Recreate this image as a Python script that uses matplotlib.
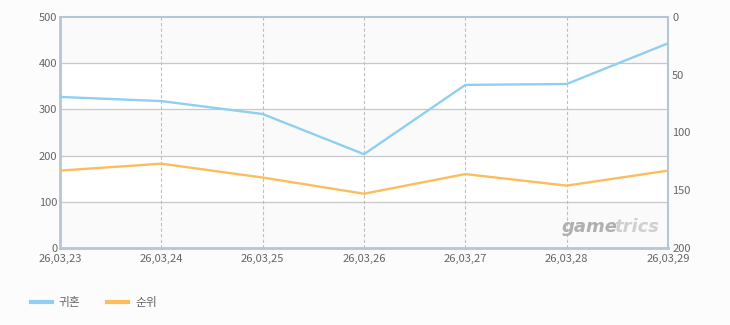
import matplotlib
matplotlib.use("Agg")
import matplotlib.pyplot as plt
from matplotlib.lines import Line2D

plt.rcParams['font.family'] = ['Noto Sans CJK KR', 'DejaVu Sans']

dates = ["26,03,23", "26,03,24", "26,03,25", "26,03,26", "26,03,27", "26,03,28", "26,03,29"]
users = [327, 318, 290, 203, 353, 355, 443]
rank = [133, 127, 139, 153, 136, 146, 133]
left_ticks = [0, 100, 200, 300, 400, 500]
right_ticks = [0, 50, 100, 150, 200]
series_names = ["귀혼", "순위"]

blue = "#8fd0f0"
orange = "#fcbd5c"
txt = "#666666"
spine = "#b4c6d8"

fig = plt.figure(figsize=(7.3, 3.25), dpi=100, facecolor="#fcfcfc")
ax = fig.add_axes([60/730, 77/325, 608/730, 231/325])
ax.set_facecolor("#fafafa")
x = list(range(len(dates)))
ax.set_xlim(0, len(dates) - 1)
ax.set_ylim(0, 500)
for lo in (100, 300):
    ax.axhspan(lo, lo + 100, color="white", zorder=0)
for t in left_ticks[1:-1]:
    ax.axhline(t, color="#c8c8c8", lw=0.9, zorder=1)
for xi in x[1:-1]:
    ax.axvline(xi, color="#c0c0c0", lw=0.8, ls=(0, (3, 2)), zorder=1)

ax.plot(x, users, color=blue, lw=1.7, zorder=3)
ax.set_yticks(left_ticks)
ax.set_xticks(x)
ax.set_xticklabels(dates)
ax.tick_params(axis="x", length=0, labelsize=8, colors=txt, pad=4)
ax.tick_params(axis="y", length=0, labelsize=8, colors=txt, pad=2)
for s in ax.spines.values():
    s.set_color(spine)
ax.spines["left"].set_linewidth(2)
ax.spines["bottom"].set_linewidth(2)
ax.spines["top"].set_linewidth(1.5)
ax.spines["right"].set_linewidth(1.5)

ax2 = ax.twinx()
ax2.set_ylim(200, 0)
ax2.plot(x, rank, color=orange, lw=1.7, zorder=3)
ax2.set_yticks(right_ticks)
ax2.tick_params(axis="y", length=0, labelsize=8, colors=txt, pad=3)
for s in ax2.spines.values():
    s.set_visible(False)

# watermark "gametrics"
t2 = ax.text(0.985, 0.05, "trics", transform=ax.transAxes, ha="right", va="bottom",
             fontsize=13, fontweight="bold", fontstyle="italic", color="#d0d0d0",
             family="DejaVu Sans", zorder=2)
fig.canvas.draw()
bb = t2.get_window_extent()
x0_axes = ax.transAxes.inverted().transform((bb.x0 + 4, bb.y0))[0]
ax.text(x0_axes, 0.05, "game", transform=ax.transAxes, ha="right", va="bottom",
        fontsize=13, fontweight="bold", fontstyle="italic", color="#b0b0b0",
        family="DejaVu Sans", zorder=2)

handles = [Line2D([], [], color=blue, lw=3), Line2D([], [], color=orange, lw=3)]
fig.legend(handles, series_names, loc="lower left", bbox_to_anchor=(20/730, 5/325),
           ncol=2, frameon=False, fontsize=8.5, labelcolor=txt, handlelength=1.8,
           handletextpad=0.6, columnspacing=2.2)

fig.savefig("out.png", dpi=100, facecolor=fig.get_facecolor())
